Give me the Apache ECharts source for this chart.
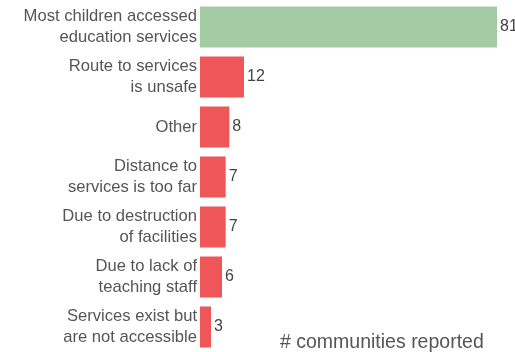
<!DOCTYPE html>
<html><head><meta charset="utf-8">
<script src="https://cdn.jsdelivr.net/npm/echarts@6/dist/echarts.min.js"></script>
<style>html,body{margin:0;padding:0;background:#fff}#c{width:515px;height:352px}</style>
</head><body><div id="c"></div>
<script>
const categories = [
  "Most children accessed\neducation services",
  "Route to services\nis unsafe",
  "Other",
  "Distance to\nservices is too far",
  "Due to destruction\nof facilities",
  "Due to lack of\nteaching staff",
  "Services exist but\nare not accessible"
];
const values = [81, 12, 8, 7, 7, 6, 3];
const barColors = ["#a4cca4", "#ef5658", "#ef5658", "#ef5658", "#ef5658", "#ef5658", "#ef5658"];
const axisTitle = "# communities reported";

const chart = echarts.init(document.getElementById('c'), null, {renderer: 'canvas'});
chart.setOption({
  animation: false,
  grid: {left: 200, right: 18, top: 2, bottom: 0, containLabel: false},
  xAxis: {type: 'value', min: 0, max: 81, show: false},
  yAxis: {
    type: 'category', inverse: true, data: categories,
    axisLine: {show: false}, axisTick: {show: false},
    axisLabel: {margin: 3, color: '#555', fontSize: 16.6, lineHeight: 21, fontFamily: 'Liberation Sans, Arial, sans-serif', align: 'right'}
  },
  series: [{
    type: 'bar',
    data: values.map((v, i) => ({value: v, itemStyle: {color: barColors[i]}})),
    barWidth: 41,
    label: {show: true, position: 'right', distance: 3, color: '#444', fontSize: 16, fontFamily: 'Liberation Sans, Arial, sans-serif'}
  }],
  graphic: [{
    type: 'text', left: 280, top: 333,
    style: {text: axisTitle, fill: '#555', fontSize: 19.5, fontFamily: 'Liberation Sans, Arial, sans-serif'}
  }]
});
</script></body></html>
